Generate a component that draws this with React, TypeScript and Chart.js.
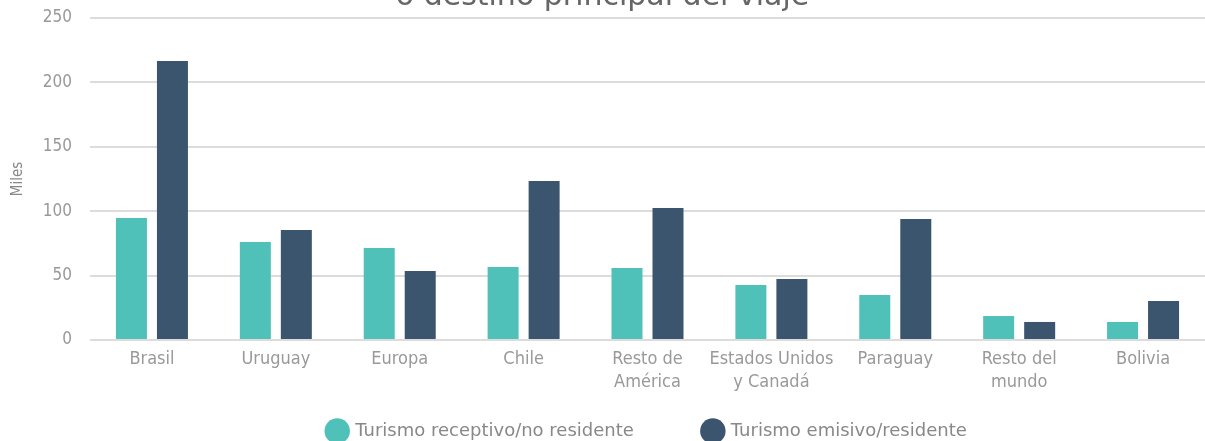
import React, { useEffect, useRef } from "react";
import { Chart, registerables } from "chart.js";

Chart.register(...registerables);

const categories: (string | string[])[] = [
  "Brasil",
  "Uruguay",
  "Europa",
  "Chile",
  ["Resto de", "América"],
  ["Estados Unidos", "y Canadá"],
  "Paraguay",
  ["Resto del", "mundo"],
  "Bolivia",
];
const receptivo = [94.7, 76.1, 71.4, 56.7, 55.9, 42.7, 34.9, 18.6, 14.0];
const emisivo = [216.6, 85.4, 53.6, 123.4, 102.5, 47.4, 93.9, 14.0, 30.3];
const seriesNames = ["Turismo receptivo/no residente", "Turismo emisivo/residente"];
const titleText = "o destino principal del viaje";
const yAxisTitle = "Miles";
const yMin = 0;
const yMax = 250;
const yStep = 50;

const TEAL = "#4FC1B8";
const NAVY = "#3B556E";
const NARROW = "'Liberation Sans Narrow', 'DejaVu Sans Condensed', Roboto, sans-serif";
const WIDE = "'DejaVu Sans', 'Noto Sans', sans-serif";
const LEGEND_GAP = "\u2003\u2003\u2003";
const SHIFT = 21;

export default function App() {
  const ref = useRef<HTMLCanvasElement | null>(null);

  useEffect(() => {
    if (!ref.current) return;
    const chart = new Chart(ref.current, {
      type: "bar",
      data: {
        labels: categories,
        datasets: [
          {
            label: seriesNames[0],
            data: receptivo,
            backgroundColor: TEAL,
            borderWidth: 0,
            categoryPercentage: 0.662,
            barPercentage: 0.756,
          },
          {
            label: seriesNames[1],
            data: emisivo,
            backgroundColor: NAVY,
            borderWidth: 0,
            categoryPercentage: 0.662,
            barPercentage: 0.756,
          },
        ],
      },
      options: {
        animation: false,
        responsive: false,
        maintainAspectRatio: false,
        layout: { padding: 0 },
        plugins: {
          title: {
            display: true,
            text: titleText,
            color: "#666666",
            font: { family: WIDE, size: 30, weight: "normal", lineHeight: 1.2 },
            padding: { top: 0, bottom: 3 },
          },
          legend: {
            position: "bottom",
            fullSize: false,
            labels: {
              usePointStyle: true,
              pointStyle: "circle",
              color: "#888888",
              font: { family: WIDE, size: 18 },
              padding: 16,
              generateLabels: (ch: any) => {
                const items = Chart.defaults.plugins.legend.labels.generateLabels(ch);
                return items.map((it: any, i: number) => ({
                  ...it,
                  text: i < items.length - 1 ? it.text + LEGEND_GAP : it.text,
                }));
              },
            },
          },
          tooltip: { enabled: false },
        },
        scales: {
          x: {
            grid: { display: false, drawTicks: false },
            border: { display: false },
            ticks: {
              color: "#999999",
              font: { family: NARROW, size: 18, lineHeight: 1.28 },
              padding: 8,
              maxRotation: 0,
              autoSkip: false,
            },
            afterFit: (scale: any) => {
              scale.height = 66;
            },
          },
          y: {
            min: yMin,
            max: yMax,
            ticks: {
              stepSize: yStep,
              color: "#999999",
              font: { family: NARROW, size: 17 },
              padding: 18,
            },
            grid: { color: "#dcdcdc", lineWidth: 2, drawTicks: false },
            border: { display: false },
            title: {
              display: true,
              text: yAxisTitle,
              color: "#888888",
              font: { family: NARROW, size: 15 },
              padding: { top: 9, bottom: 0 },
            },
            afterFit: (scale: any) => {
              scale.width = 90;
            },
          },
        },
      },
    });
    return () => chart.destroy();
  }, []);

  return (
    <div
      style={{
        position: "fixed",
        left: 0,
        top: -SHIFT,
        width: 1205,
        height: 450 + SHIFT,
        background: "#ffffff",
      }}
    >
      <canvas ref={ref} width={1205} height={450 + SHIFT} style={{ display: "block" }} />
    </div>
  );
}
